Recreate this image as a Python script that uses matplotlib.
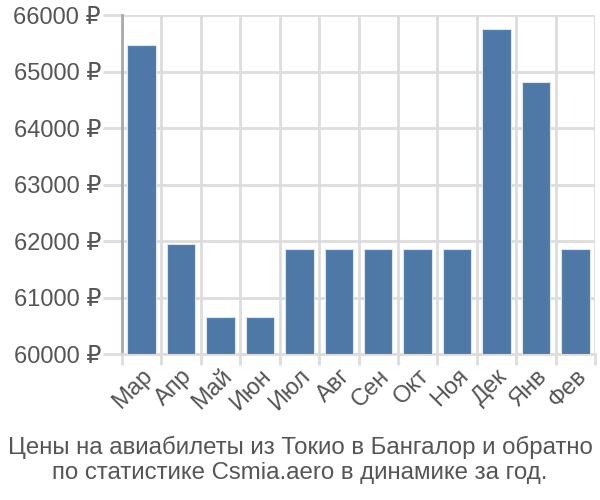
import matplotlib
matplotlib.use("Agg")
import matplotlib.pyplot as plt
import numpy as np

plt.rcParams['font.family'] = ['Liberation Sans', 'DejaVu Sans']

# data
months = ["Мар", "Апр", "Май", "Июн", "Июл", "Авг", "Сен", "Окт", "Ноя", "Дек", "Янв", "Фев"]
prices = [65470, 61950, 60650, 60650, 61850, 61850, 61850, 61850, 61850, 65750, 64820, 61850]
yticks = [60000, 61000, 62000, 63000, 64000, 65000, 66000]

fig = plt.figure(figsize=(6, 5), dpi=100)
ax = fig.add_axes([0.203, 0.292, 0.789, 0.678])

x = np.arange(len(months))
ax.bar(x, [p - 60000 for p in prices], bottom=60000, width=0.72,
       color="#4e79a7", edgecolor="#dce4ee", linewidth=0.8, zorder=3)

ax.set_xlim(-0.5, len(months) - 0.5)
ax.set_ylim(60000, 66000)
ax.set_yticks(yticks)
ax.set_yticklabels([f"{v} ₽" for v in yticks], fontsize=17, color="#555555")

ax.set_xticks(x)
ax.set_xticklabels(months, rotation=45, ha="right", rotation_mode="anchor",
                   fontsize=17, color="#555555")
ax.tick_params(axis="x", length=0, pad=8)
ax.set_xticks(np.arange(-0.5, len(months), 1), minor=True)
ax.tick_params(axis="x", which="minor", length=8, color="#dddddd", width=2)
ax.tick_params(axis="y", length=14, color="#dddddd", width=2, pad=1)

ax.grid(True, which="minor", axis="x", color="#dddddd", linewidth=2, zorder=0)
ax.grid(True, which="major", axis="y", color="#dddddd", linewidth=2, zorder=0)
ax.grid(False, which="major", axis="x")

for s in ["top", "right"]:
    ax.spines[s].set_visible(False)
ax.spines["left"].set_color("#aaaaaa")
ax.spines["left"].set_linewidth(2)
ax.spines["bottom"].set_color("#dddddd")
ax.spines["bottom"].set_linewidth(2)

fig.text(0.5, 0.106, "Цены на авиабилеты из Токио в Бангалор и обратно",
         ha="center", va="center", fontsize=17.3, color="#555555")
fig.text(0.5, 0.054, "по статистике Csmia.aero в динамике за год.",
         ha="center", va="center", fontsize=17.3, color="#555555")

fig.savefig("out.png", dpi=100)
